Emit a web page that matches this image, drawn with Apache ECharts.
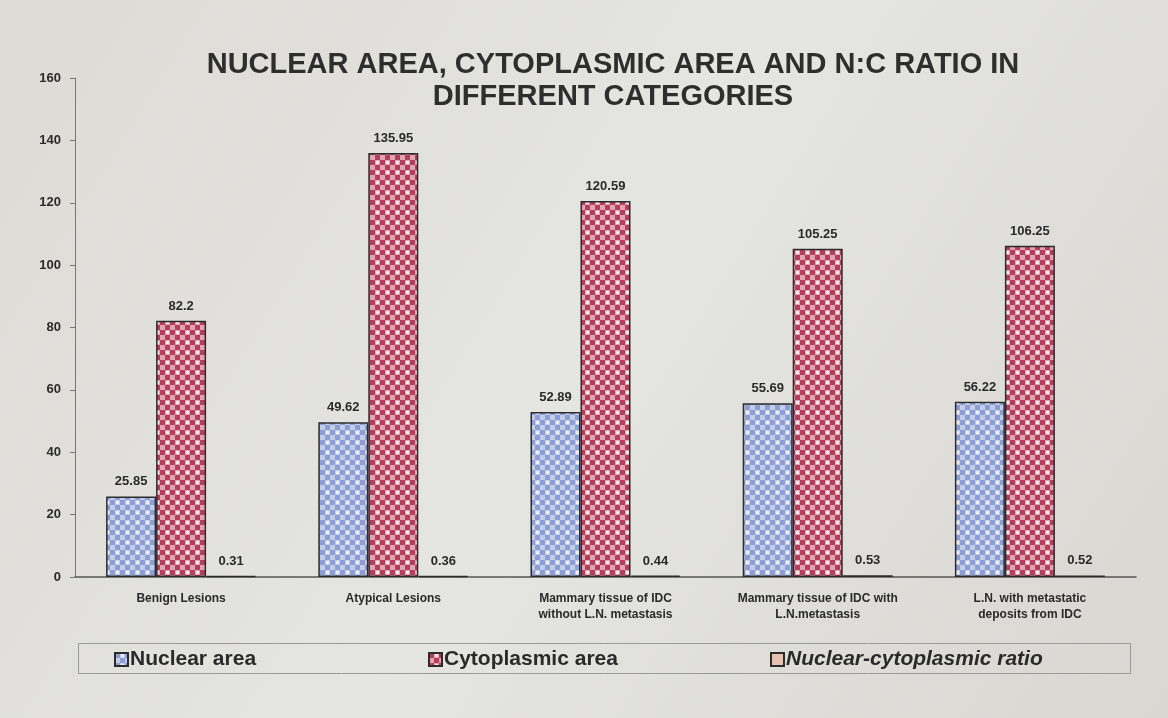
<!doctype html>
<html lang="en">
<head>
<meta charset="UTF-8">
<title>Nuclear area, cytoplasmic area and N:C ratio</title>
<style>
  html, body { margin: 0; padding: 0; background: #d8d7d2; }
  #main { width: 1168px; height: 718px; }
</style>
<script src="https://cdn.jsdelivr.net/npm/echarts@6/dist/echarts.min.js"></script>
</head>
<body>
<div id="main"></div>
<script>
// data
var categories = [
    'Benign Lesions',
    'Atypical Lesions',
    'Mammary tissue of IDC\nwithout L.N. metastasis',
    'Mammary tissue of IDC with\nL.N.metastasis',
    'L.N. with metastatic\ndeposits from IDC'
];
var nuclearArea = [25.85, 49.62, 52.89, 55.69, 56.22];
var cytoplasmicArea = [82.2, 135.95, 120.59, 105.25, 106.25];
var ncRatio = [0.31, 0.36, 0.44, 0.53, 0.52];
var yTicks = [0, 20, 40, 60, 80, 100, 120, 140, 160];
var seriesNames = ['Nuclear area', 'Cytoplasmic area', 'Nuclear-cytoplasmic ratio'];

// small checker tiles to imitate the printed fill
function checker(base, dot) {
    var c = document.createElement('canvas');
    c.width = 10; c.height = 10;
    var g = c.getContext('2d');
    g.fillStyle = base;
    g.fillRect(0, 0, 10, 10);
    g.fillStyle = dot;
    g.fillRect(0, 0, 5, 5);
    g.fillRect(5, 5, 5, 5);
    g.fillStyle = '#f2eeee';
    g.fillRect(6, 1, 3, 3);
    return { image: c, repeat: 'repeat' };
}

var chart = echarts.init(document.getElementById('main'));
var font = 'Arial, "Liberation Sans", sans-serif';
var labelStyle = { show: true, position: 'top', distance: 8, color: '#2a2a2a', fontWeight: 'bold', fontSize: 13, fontFamily: font };

function legendAt(x, name, italic) {
    return {
        left: x, top: 649,
        icon: 'rect', itemWidth: 13, itemHeight: 13, padding: 0,
        textStyle: { color: '#2a2a2a', fontSize: 21, fontWeight: 'bold', fontStyle: italic ? 'italic' : 'normal', fontFamily: font, padding: [0, 0, 0, -3] },
        data: [name]
    };
}

chart.setOption({
    backgroundColor: {
        type: 'linear', x: 0, y: 0, x2: 1, y2: 1,
        colorStops: [{ offset: 0, color: '#dcdbd6' }, { offset: 0.5, color: '#e5e5e1' }, { offset: 1, color: '#d8d7d2' }]
    },
    title: {
        text: 'NUCLEAR AREA, CYTOPLASMIC AREA AND N:C RATIO IN\nDIFFERENT CATEGORIES',
        left: 608,
        textAlign: 'center',
        top: 44,
        textStyle: { color: '#2e2e2e', fontSize: 29, fontWeight: 'bold', fontFamily: font, lineHeight: 32 }
    },
    graphic: [{
        type: 'rect', left: 78, top: 643,
        shape: { width: 1052, height: 30 },
        style: { fill: 'rgba(0,0,0,0)', stroke: '#9a9a98', lineWidth: 1 }
    }],
    legend: [
        legendAt(114, seriesNames[0], false),
        legendAt(428, seriesNames[1], false),
        legendAt(770, seriesNames[2], true)
    ],
    grid: { left: 75, right: 32, top: 78, bottom: 141 },
    xAxis: {
        type: 'category',
        data: categories,
        axisLine: { lineStyle: { color: '#555', width: 1.5 } },
        axisTick: { show: false },
        axisLabel: { color: '#2a2a2a', fontWeight: 'bold', fontSize: 12, fontFamily: font, lineHeight: 16, margin: 14, interval: 0 }
    },
    yAxis: {
        type: 'value',
        min: yTicks[0],
        max: yTicks[yTicks.length - 1],
        interval: 20,
        axisLine: { show: true, lineStyle: { color: '#777' } },
        axisTick: { show: true, length: 5, lineStyle: { color: '#777' } },
        splitLine: { show: false },
        axisLabel: { color: '#2a2a2a', fontWeight: 'bold', fontSize: 13, fontFamily: font, margin: 14 }
    },
    series: [
        {
            name: seriesNames[0], type: 'bar', data: nuclearArea,
            barWidth: 50, barGap: '0%',
            itemStyle: { color: checker('#c3cdea', '#8b9ed6'), borderColor: '#2c2c2c', borderWidth: 1.5 },
            label: labelStyle
        },
        {
            name: seriesNames[1], type: 'bar', data: cytoplasmicArea,
            barWidth: 50, barGap: '0%',
            itemStyle: { color: checker('#e3a3b1', '#b43f5c'), borderColor: '#2c2c2c', borderWidth: 1.5 },
            label: labelStyle
        },
        {
            name: seriesNames[2], type: 'bar', data: ncRatio,
            barWidth: 50, barGap: '0%',
            itemStyle: { color: '#e8c2b0', borderColor: '#2c2c2c', borderWidth: 1.5 },
            label: labelStyle
        }
    ]
});
</script>
</body>
</html>
